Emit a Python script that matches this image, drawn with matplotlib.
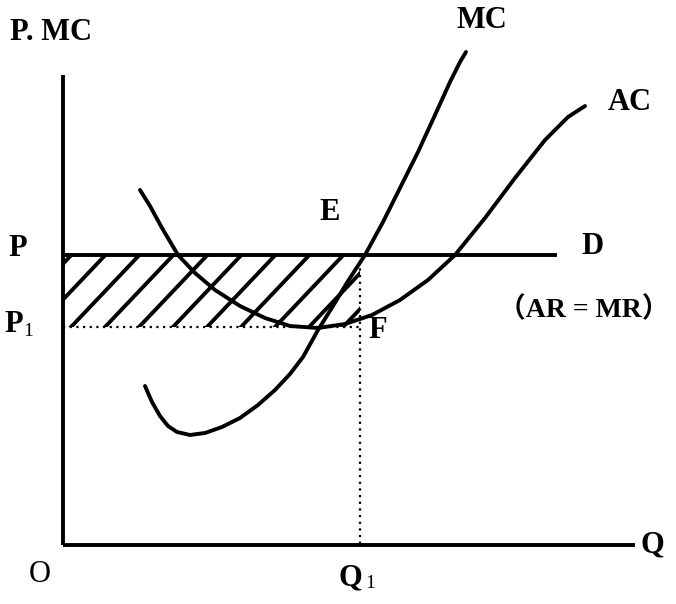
import numpy as np
import matplotlib
matplotlib.use("Agg")
import matplotlib.pyplot as plt
from matplotlib.patches import Rectangle

# curve points (pixel space, y grows downward)
mc_x = [145, 152, 160, 168, 177, 190, 205, 222, 240, 258, 275, 290, 303, 318, 333, 348, 365, 383, 400, 418, 435, 450, 460, 466]
mc_y = [386, 402, 416, 426, 432, 435, 433, 427, 418, 405, 390, 374, 357, 330, 306, 281, 255, 222, 188, 152, 115, 82, 62, 52]

ac_x = [140, 150, 162, 178, 195, 215, 240, 265, 290, 318, 345, 372, 400, 428, 455, 485, 515, 545, 568, 585]
ac_y = [190, 206, 228, 255, 273, 290, 306, 318, 326, 328, 324, 315, 300, 280, 255, 218, 178, 140, 117, 106]

# key levels
p_level = 255
p1_level = 327
q1_pos = 360
origin = (63, 545)
x_end = 635
y_top = 75
d_end = 555

fig = plt.figure(figsize=(6.76, 6.04), dpi=100)
ax = fig.add_axes([0, 0, 1, 1])
ax.set_xlim(0, 676)
ax.set_ylim(604, 0)
ax.axis("off")

lw = 2.8
ax.plot([origin[0], origin[0]], [y_top, origin[1]], color="black", lw=lw, solid_capstyle="butt")
ax.plot([origin[0], x_end], [origin[1], origin[1]], color="black", lw=lw, solid_capstyle="butt")

# profit rectangle with diagonal hatch
rect = Rectangle((origin[0], p_level), q1_pos - origin[0], p1_level - p_level,
                 facecolor="none", edgecolor="none")
ax.add_patch(rect)
h = p1_level - p_level
run = h * 0.95
for x0 in np.arange(origin[0] - 60, q1_pos + 10, 34):
    line, = ax.plot([x0, x0 + run], [p1_level, p_level], color="black", lw=2.8)
    line.set_clip_path(rect)

ax.plot([origin[0], d_end], [p_level, p_level], color="black", lw=lw)
ax.plot([origin[0], q1_pos], [p1_level, p1_level], color="black", lw=1.6, ls=(0, (1, 2)))
ax.plot([q1_pos, q1_pos], [p_level, origin[1]], color="black", lw=1.6, ls=(0, (1, 2)))

ax.plot(mc_x, mc_y, color="black", lw=lw, solid_joinstyle="round", solid_capstyle="round")
ax.plot(ac_x, ac_y, color="black", lw=lw, solid_joinstyle="round", solid_capstyle="round")

font = dict(family="Liberation Serif", fontweight="bold", color="black", fontsize=22)
ax.text(10, 32, "P. MC", ha="left", va="center", **font)
ax.text(482, 20, "MC", ha="center", va="center", **font)
ax.text(630, 102, "AC", ha="center", va="center", **font)
ax.text(330, 212, "E", ha="center", va="center", **font)
ax.text(18, 248, "P", ha="center", va="center", **font)
ax.text(14, 325, "P", ha="center", va="center", **font)
ax.text(28, 332, "1", ha="center", va="center", family="Liberation Serif", fontsize=14, color="black")
ax.text(592, 246, "D", ha="center", va="center", **font)
ax.text(584, 310, "（AR = MR）", ha="center", va="center",
        family=["Liberation Serif", "Noto Sans CJK SC"], fontweight="bold", fontsize=20, color="black")
ax.text(378, 330, "F", ha="center", va="center", **font)
ax.text(40, 575, "O", ha="center", va="center", family="Liberation Serif", fontsize=22, color="black")
ax.text(350, 578, "Q", ha="center", va="center", **font)
ax.text(370, 584, "1", ha="center", va="center", family="Liberation Serif", fontsize=14, color="black")
ax.text(652, 545, "Q", ha="center", va="center", **font)

fig.savefig("out.png", dpi=100)
